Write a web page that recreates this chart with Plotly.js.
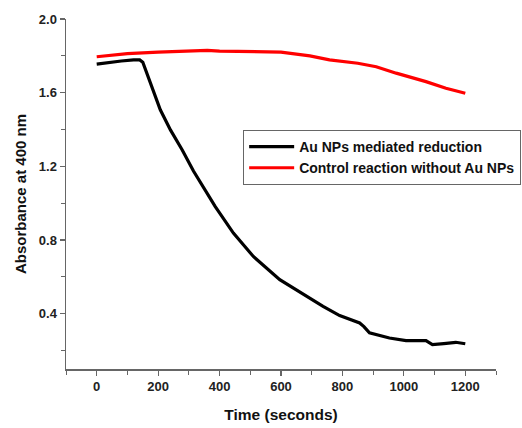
<!DOCTYPE html>
<html>
<head>
<meta charset="utf-8">
<script src="https://cdn.plot.ly/plotly-3.0.1.min.js"></script>
<style>html,body{margin:0;padding:0;background:#fff;}#chart{width:522px;height:428px;}</style>
</head>
<body>
<div id="chart"></div>
<script>
var auTime = [0, 40, 80, 120, 140, 150, 175, 207, 240, 278, 315, 359, 386, 445, 510, 596, 683, 737, 791, 812, 856, 870, 888, 953, 1007, 1072, 1093, 1130, 1169, 1200];
var auAbs = [1.755, 1.765, 1.772, 1.778, 1.778, 1.765, 1.65, 1.507, 1.398, 1.29, 1.175, 1.055, 0.982, 0.838, 0.711, 0.585, 0.494, 0.44, 0.39, 0.377, 0.35, 0.33, 0.296, 0.268, 0.254, 0.254, 0.232, 0.238, 0.245, 0.237];
var ctrlTime = [0, 50, 100, 200, 300, 360, 400, 500, 600, 694, 758, 850, 910, 975, 1072, 1137, 1200];
var ctrlAbs = [1.795, 1.805, 1.812, 1.82, 1.825, 1.83, 1.826, 1.824, 1.82, 1.80, 1.778, 1.76, 1.741, 1.706, 1.66, 1.624, 1.597];
var xTicks = [0, 200, 400, 600, 800, 1000, 1200];
var yTicks = [0.4, 0.8, 1.2, 1.6, 2.0];

var font = "Liberation Sans, Arial, sans-serif";
var traces = [
  {x: auTime, y: auAbs, mode: 'lines', name: '<b>Au NPs mediated reduction</b>',
   line: {color: '#000000', width: 3.2}},
  {x: ctrlTime, y: ctrlAbs, mode: 'lines', name: '<b>Control reaction without Au NPs</b>',
   line: {color: '#ff0000', width: 3.2}}
];
var axisCommon = {
  showgrid: false, zeroline: false, showline: true, linecolor: '#666', linewidth: 1.5,
  ticks: 'outside', ticklen: 5, tickwidth: 1.2, tickcolor: '#666',
  tickfont: {family: font, size: 13, color: '#222', weight: 'bold'}
};
var layout = {
  width: 522, height: 428,
  margin: {l: 66, r: 26, t: 19, b: 59, autoexpand: false},
  paper_bgcolor: '#fff', plot_bgcolor: '#fff',
  showlegend: true,
  legend: {x: 0.412, y: 0.683, xanchor: 'left', yanchor: 'top',
    bordercolor: '#666', borderwidth: 1, bgcolor: '#fff',
    font: {family: font, size: 14, color: '#111'}, itemwidth: 45, tracegroupgap: 0},
  xaxis: Object.assign({}, axisCommon, {
    range: [-100, 1300], tickvals: xTicks, ticktext: xTicks.map(String),
    minor: {dtick: 100, tick0: 0, ticks: 'outside', ticklen: 4, tickcolor: '#666', tickwidth: 1},
    title: {text: '<b>Time (seconds)</b>', font: {family: font, size: 15.5, color: '#111'}, standoff: 16}
  }),
  yaxis: Object.assign({}, axisCommon, {
    range: [0.1, 2.0], tickvals: yTicks, ticktext: yTicks.map(function(v){return v.toFixed(1);}),
    minor: {dtick: 0.2, tick0: 0, ticks: 'outside', ticklen: 4, tickcolor: '#666', tickwidth: 1},
    title: {text: '<b>Absorbance at 400 nm</b>', font: {family: font, size: 15, color: '#111'}, standoff: 8}
  })
};
Plotly.newPlot('chart', traces, layout, {staticPlot: true, displayModeBar: false});
</script>
</body>
</html>
